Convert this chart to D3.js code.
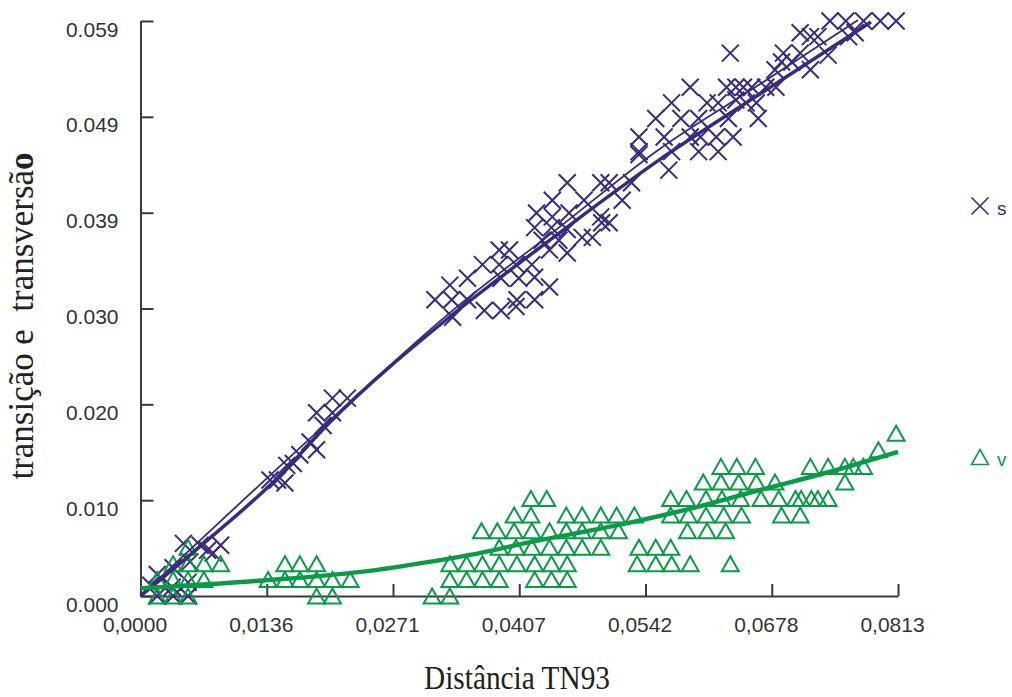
<!DOCTYPE html>
<html>
<head>
<meta charset="utf-8">
<script src="https://cdn.jsdelivr.net/npm/d3@7"></script>
<style>
  body { margin: 0; background: #fff; }
  svg { display: block; }
</style>
</head>
<body>
<svg id="chart" width="1012" height="697"></svg>
<script>
// tick values and their printed labels
const xTickValues = [0, 0.01355, 0.0271, 0.04065, 0.0542, 0.06775, 0.0813];
const xTickLabels = ["0,0000", "0,0136", "0,0271", "0,0407", "0,0542", "0,0678", "0,0813"];
const yTickValues = [0, 0.00983, 0.01967, 0.0295, 0.03933, 0.04917, 0.059];
const yTickLabels = ["0.000", "0.010", "0.020", "0.030", "0.039", "0.049", "0.059"];

// s (transitions) - crosses
const sPoints = [
  [0.0018,0],[0.0035,0],[0.0051,0],[0.0011,0.0011],[0.0034,0.0009],[0.0018,0.0022],[0.0051,0.0014],
  [0.0035,0.0029],[0.0053,0.0035],[0.0046,0.0054],[0.0064,0.0052],[0.0078,0.0044],[0.0086,0.0052],[0.0072,0.0047],
  [0.0139,0.0119],[0.0147,0.0119],[0.0155,0.0116],[0.0157,0.0134],[0.0164,0.0136],[0.0171,0.0145],[0.0182,0.0158],
  [0.0189,0.0150],[0.0189,0.0188],[0.0206,0.0188],[0.0196,0.0175],[0.0206,0.0203],[0.0222,0.0203],
  [0.0335,0.0286],[0.0369,0.0293],[0.0387,0.0293],[0.0403,0.0297],[0.0316,0.0304],[0.0334,0.0304],[0.0351,0.0304],
  [0.0404,0.0304],[0.0423,0.0304],[0.0332,0.0319],[0.0439,0.0317],[0.0351,0.0326],[0.0387,0.0326],[0.0406,0.0326],
  [0.0423,0.0327],[0.0367,0.0340],[0.0385,0.0340],[0.0403,0.0340],[0.0420,0.0340],[0.0385,0.0355],[0.0396,0.0355],
  [0.0439,0.0355],[0.0458,0.0352],[0.0431,0.0365],[0.0449,0.0365],[0.0474,0.0368],[0.0485,0.0368],[0.0423,0.0378],
  [0.0441,0.0378],[0.0458,0.0376],[0.0495,0.0383],[0.0503,0.0383],[0.0425,0.0393],[0.0442,0.0389],[0.0460,0.0393],
  [0.0494,0.0389],[0.0442,0.0406],[0.0476,0.0406],[0.0517,0.0406],[0.0458,0.0424],[0.0494,0.0424],[0.0503,0.0424],
  [0.0535,0.0453],
  [0.0527,0.0424],[0.0567,0.0437],[0.0535,0.0456],[0.0570,0.0456],[0.0599,0.0456],[0.0620,0.0456],[0.0535,0.0471],
  [0.0562,0.0471],[0.0590,0.0471],[0.0601,0.0471],[0.0618,0.0471],[0.0636,0.0471],[0.0553,0.0490],[0.0580,0.0490],
  [0.0599,0.0490],[0.0631,0.0490],[0.0663,0.0490],[0.0570,0.0506],[0.0608,0.0506],[0.0620,0.0506],[0.0639,0.0509],
  [0.0650,0.0506],[0.0661,0.0506],[0.0590,0.0522],[0.0629,0.0522],[0.0639,0.0522],[0.0647,0.0522],[0.0656,0.0522],
  [0.0671,0.0522],[0.0682,0.0522],
  [0.0633,0.0557],[0.0681,0.0540],[0.0719,0.0540],[0.0688,0.0548],[0.0699,0.0548],[0.0690,0.0557],[0.0708,0.0557],
  [0.0738,0.0555],[0.0708,0.0578],[0.0719,0.0574],[0.0727,0.0574],[0.0760,0.0574],[0.0767,0.0578],[0.0740,0.0590],
  [0.0757,0.0590],[0.0776,0.0590],[0.0794,0.0590],[0.0811,0.0590]
];

// v (transversions) - triangles
const vPoints = [
  [0.0018,0],[0.0035,0],[0.0051,0],[0.0189,0],[0.0206,0],[0.0313,0],[0.0332,0],
  [0.0018,0.0017],[0.0035,0.0017],[0.0051,0.0017],[0.0068,0.0017],[0.0137,0.0017],[0.0155,0.0017],[0.0171,0.0017],
  [0.0189,0.0017],[0.0206,0.0017],[0.0225,0.0017],[0.0332,0.0017],[0.0350,0.0017],[0.0367,0.0017],[0.0385,0.0017],
  [0.0423,0.0017],[0.0441,0.0017],[0.0458,0.0017],
  [0.0035,0.0033],[0.0051,0.0033],[0.0068,0.0033],[0.0086,0.0033],[0.0155,0.0033],[0.0171,0.0033],[0.0189,0.0033],
  [0.0332,0.0033],[0.0350,0.0033],[0.0367,0.0033],[0.0385,0.0033],[0.0404,0.0033],[0.0423,0.0033],[0.0441,0.0033],
  [0.0458,0.0033],[0.0533,0.0033],[0.0553,0.0033],[0.0570,0.0033],[0.0590,0.0033],[0.0633,0.0033],
  [0.0051,0.0050],[0.0385,0.0050],[0.0403,0.0050],[0.0420,0.0050],[0.0439,0.0050],[0.0457,0.0050],[0.0474,0.0050],
  [0.0494,0.0050],[0.0535,0.0050],[0.0553,0.0050],[0.0569,0.0050],
  [0.0366,0.0067],[0.0383,0.0067],[0.0401,0.0067],[0.0420,0.0067],[0.0439,0.0067],[0.0457,0.0067],[0.0474,0.0067],
  [0.0494,0.0067],[0.0513,0.0067],[0.0587,0.0067],[0.0608,0.0067],[0.0628,0.0067],
  [0.0401,0.0083],[0.0419,0.0083],[0.0457,0.0083],[0.0474,0.0083],[0.0494,0.0083],[0.0511,0.0083],[0.0530,0.0083],
  [0.0569,0.0083],[0.0588,0.0083],[0.0607,0.0083],[0.0626,0.0083],[0.0645,0.0083],[0.0688,0.0083],[0.0708,0.0083],
  [0.0419,0.0100],[0.0436,0.0100],[0.0569,0.0100],[0.0586,0.0100],[0.0607,0.0100],[0.0624,0.0100],[0.0644,0.0100],
  [0.0666,0.0100],[0.0685,0.0100],[0.0703,0.0100],[0.0709,0.0100],[0.0720,0.0100],[0.0727,0.0100],[0.0738,0.0100],
  [0.0604,0.0117],[0.0623,0.0117],[0.0642,0.0117],[0.0661,0.0117],[0.0681,0.0117],[0.0756,0.0117],
  [0.0623,0.0133],[0.0640,0.0133],[0.0660,0.0133],[0.0719,0.0133],[0.0738,0.0133],[0.0756,0.0133],[0.0765,0.0133],
  [0.0776,0.0133],
  [0.0792,0.0150],
  [0.0811,0.0167]
];

// fitted curves
const sFitX = [0, 0.0064, 0.0147, 0.0203, 0.0330, 0.0428, 0.0556, 0.0663, 0.0784];
const sFitY = [0, 0.0051, 0.0121, 0.0178, 0.0285, 0.0357, 0.0447, 0.0514, 0.0589];
const sFit2X = [0, 0.0203, 0.0330, 0.0449, 0.0556, 0.0663, 0.0770];
const sFit2Y = [0, 0.0180, 0.0289, 0.0378, 0.0458, 0.0524, 0.0591];
const vFitX = [0, 0.0132, 0.0239, 0.0310, 0.0364, 0.0417, 0.0524, 0.0596, 0.0666, 0.0738, 0.0813];
const vFitY = [0.0008, 0.0016, 0.0025, 0.0035, 0.0044, 0.0055, 0.0075, 0.0091, 0.0109, 0.0127, 0.0148];

const purple = "#3b2a7c";
const green = "#0b9a48";
const axisColor = "#3a3a3a";

const svg = d3.select("#chart");

const x = d3.scaleLinear().domain([0, 0.0813]).range([140.5, 898]);
const y = d3.scaleLinear().domain([0, 0.059]).range([596, 21]);

// x axis
const xAxis = svg.append("g")
  .attr("transform", `translate(0,${y(0)})`)
  .call(d3.axisBottom(x).tickValues(xTickValues)
    .tickFormat((d, i) => xTickLabels[i])
    .tickSizeInner(-12).tickSizeOuter(0));
xAxis.select(".domain").attr("stroke", axisColor).attr("stroke-width", 2);
xAxis.selectAll(".tick line").attr("stroke", axisColor).attr("stroke-width", 2);
xAxis.selectAll(".tick text")
  .attr("x", -6).attr("y", 36).attr("dy", 0)
  .attr("fill", "#333")
  .style("font-family", "'Liberation Sans', Arial, sans-serif")
  .style("font-size", "21px");

// y axis
const yAxis = svg.append("g")
  .attr("transform", `translate(${x(0)},0)`)
  .call(d3.axisLeft(y).tickValues(yTickValues)
    .tickFormat((d, i) => yTickLabels[i])
    .tickSizeInner(-13).tickSizeOuter(0));
yAxis.select(".domain").attr("stroke", axisColor).attr("stroke-width", 2);
yAxis.selectAll(".tick line").attr("stroke", axisColor).attr("stroke-width", 2);
yAxis.selectAll(".tick text")
  .attr("x", -22).attr("dy", 15)
  .attr("fill", "#333")
  .style("font-family", "'Liberation Sans', Arial, sans-serif")
  .style("font-size", "21px");

const crossPath = "M-8.5,-8.5L8.5,8.5M-8.5,8.5L8.5,-8.5";
const triPath = "M0,-7.5L8.5,7.5L-8.5,7.5Z";

// crosses
svg.append("g").selectAll("path")
  .data(sPoints).enter().append("path")
  .attr("d", crossPath)
  .attr("transform", d => `translate(${x(d[0])},${y(d[1])})`)
  .attr("fill", "none")
  .attr("stroke", purple)
  .attr("stroke-width", 2);

// triangles
svg.append("g").selectAll("path")
  .data(vPoints).enter().append("path")
  .attr("d", triPath)
  .attr("transform", d => `translate(${x(d[0])},${y(d[1])})`)
  .attr("fill", "none")
  .attr("stroke", green)
  .attr("stroke-width", 2);

const line = d3.line().x(d => x(d[0])).y(d => y(d[1])).curve(d3.curveMonotoneX);

svg.append("path")
  .attr("d", line(sFit2X.map((v, i) => [v, sFit2Y[i]])))
  .attr("fill", "none").attr("stroke", purple).attr("stroke-width", 1.8);
svg.append("path")
  .attr("d", line(sFitX.map((v, i) => [v, sFitY[i]])))
  .attr("fill", "none").attr("stroke", purple).attr("stroke-width", 3.5);
svg.append("path")
  .attr("d", line(vFitX.map((v, i) => [v, vFitY[i]])))
  .attr("fill", "none").attr("stroke", green).attr("stroke-width", 4.5);

// legend
svg.append("path").attr("d", crossPath).attr("transform", "translate(980,206)")
  .attr("fill", "none").attr("stroke", purple).attr("stroke-width", 1.6);
svg.append("text").attr("x", 997).attr("y", 215).text("s")
  .attr("fill", purple)
  .style("font-family", "'Liberation Sans', Arial, sans-serif").style("font-size", "19px");
svg.append("path").attr("d", triPath).attr("transform", "translate(980,457)")
  .attr("fill", "none").attr("stroke", green).attr("stroke-width", 1.6);
svg.append("text").attr("x", 997).attr("y", 466).text("v")
  .attr("fill", green)
  .style("font-family", "'Liberation Sans', Arial, sans-serif").style("font-size", "19px");

// axis titles
svg.append("text")
  .attr("x", 517).attr("y", 689)
  .attr("text-anchor", "middle")
  .attr("textLength", 186).attr("lengthAdjust", "spacingAndGlyphs")
  .attr("fill", "#222")
  .style("font-family", "'Liberation Serif', 'Times New Roman', serif")
  .style("font-size", "33px")
  .text("Distância TN93");

const yTitle = svg.append("text")
  .attr("transform", "translate(33,316) rotate(-90)")
  .attr("text-anchor", "middle")
  .attr("textLength", 327).attr("lengthAdjust", "spacingAndGlyphs")
  .attr("fill", "#222")
  .style("font-family", "'Liberation Serif', 'Times New Roman', serif")
  .style("font-size", "35px")
  .style("white-space", "pre");
yTitle.append("tspan").text("transição e  transversã");
yTitle.append("tspan").style("font-weight", "bold").text("o");
</script>
</body>
</html>
